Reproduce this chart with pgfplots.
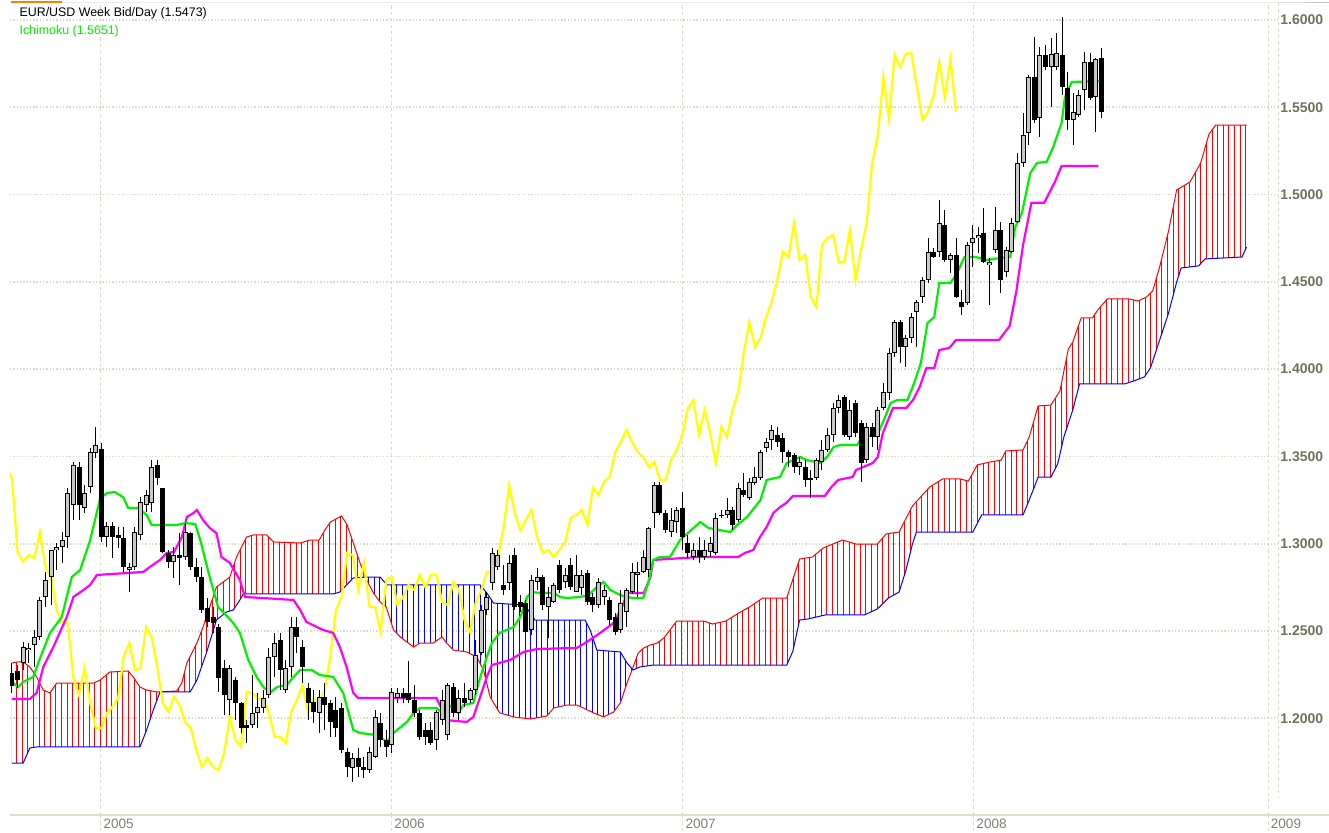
\documentclass[border=0pt]{standalone}
\usepackage{pgfplots}
\pgfplotsset{compat=1.18}
\usepackage{pgfplotstable}
\usepgfplotslibrary{fillbetween}
\usetikzlibrary{patterns.meta}
\usepackage{fontspec}
\setmainfont{Liberation Sans}
\definecolor{gridc}{RGB}{222,218,198}
\definecolor{tickc}{RGB}{112,112,92}
\definecolor{yearc}{RGB}{128,128,118}
\definecolor{framec}{RGB}{226,222,204}
\definecolor{ichi}{RGB}{0,240,0}
\definecolor{kij}{RGB}{255,0,255}
\definecolor{chik}{RGB}{255,255,0}
\definecolor{sred}{RGB}{255,0,0}
\definecolor{sblue}{RGB}{0,0,255}
\definecolor{hollow}{RGB}{200,200,200}

\pgfplotstableread{
w o h l c
0 1.2260 1.2317 1.2145 1.2185
1 1.2271 1.2305 1.2173 1.2219
2 1.2317 1.2437 1.2277 1.2408
3 1.2391 1.2431 1.2317 1.2403
4 1.2420 1.2506 1.2294 1.2466
5 1.2466 1.2695 1.2448 1.2678
6 1.2695 1.2838 1.2637 1.2792
7 1.2809 1.2964 1.2649 1.2964
8 1.2964 1.3004 1.2849 1.2981
9 1.2981 1.3067 1.2890 1.3021
10 1.3038 1.3319 1.2975 1.3290
11 1.3222 1.3468 1.3136 1.3451
12 1.3439 1.3468 1.3136 1.3222
13 1.3205 1.3336 1.3176 1.3290
14 1.3325 1.3548 1.3290 1.3525
15 1.3520 1.3668 1.3491 1.3565
16 1.3542 1.3577 1.3010 1.3038
17 1.3038 1.3124 1.2981 1.3101
18 1.3101 1.3124 1.2918 1.3038
19 1.3050 1.3096 1.2975 1.3033
20 1.3033 1.3096 1.2838 1.2867
21 1.2849 1.2890 1.2723 1.2867
22 1.2867 1.3096 1.2849 1.3067
23 1.3050 1.3267 1.3021 1.3239
24 1.3222 1.3308 1.3182 1.3279
25 1.3233 1.3479 1.3182 1.3439
26 1.3451 1.3479 1.3336 1.3376
27 1.3319 1.3319 1.2947 1.2952
28 1.2947 1.2964 1.2861 1.2895
29 1.2895 1.2981 1.2804 1.2935
30 1.2935 1.3061 1.2764 1.2918
31 1.2924 1.3118 1.2907 1.3067
32 1.3061 1.3067 1.2849 1.2867
33 1.2867 1.2918 1.2781 1.2809
34 1.2809 1.2867 1.2603 1.2620
35 1.2632 1.2689 1.2523 1.2552
36 1.2580 1.2637 1.2489 1.2546
37 1.2523 1.2540 1.2151 1.2231
38 1.2288 1.2334 1.2019 1.2134
39 1.2105 1.2305 1.2019 1.2288
40 1.2219 1.2237 1.1990 1.2088
41 1.2088 1.2094 1.1916 1.1944
42 1.1962 1.1990 1.1858 1.1944
43 1.1962 1.2248 1.1944 1.2031
44 1.2031 1.2145 1.1944 1.2065
45 1.2059 1.2162 1.2031 1.2116
46 1.2134 1.2403 1.2116 1.2351
47 1.2351 1.2489 1.2237 1.2431
48 1.2448 1.2489 1.2162 1.2277
49 1.2162 1.2334 1.2145 1.2288
50 1.2294 1.2580 1.2237 1.2523
51 1.2523 1.2580 1.2374 1.2466
52 1.2408 1.2448 1.2202 1.2294
53 1.2173 1.2202 1.1990 1.2088
54 1.2094 1.2162 1.1973 1.2036
55 1.2031 1.2162 1.1916 1.2122
56 1.2122 1.2202 1.1933 1.2076
57 1.2088 1.2105 1.1893 1.1979
58 1.2048 1.2122 1.1893 1.1944
59 1.2059 1.2088 1.1801 1.1818
60 1.1807 1.1830 1.1664 1.1721
61 1.1715 1.1801 1.1635 1.1773
62 1.1773 1.1830 1.1664 1.1721
63 1.1721 1.1778 1.1658 1.1704
64 1.1704 1.1836 1.1687 1.1807
65 1.1778 1.2048 1.1773 1.2008
66 1.1973 1.2031 1.1836 1.1876
67 1.1876 1.1933 1.1778 1.1836
68 1.1847 1.2173 1.1801 1.2151
69 1.2116 1.2173 1.2088 1.2145
70 1.2145 1.2173 1.2088 1.2116
71 1.2145 1.2328 1.2088 1.2105
72 1.2105 1.2191 1.2008 1.2031
73 1.2031 1.2048 1.1876 1.1893
74 1.1933 1.1973 1.1847 1.1893
75 1.1933 1.1979 1.1847 1.1858
76 1.1876 1.2048 1.1818 1.2036
77 1.1990 1.2162 1.1962 1.2105
78 1.1904 1.2202 1.1876 1.2191
79 1.2179 1.2202 1.2008 1.2031
80 1.2031 1.2162 1.1990 1.2116
81 1.2116 1.2202 1.2065 1.2088
82 1.2105 1.2173 1.2088 1.2162
83 1.2162 1.2448 1.2134 1.2363
84 1.2374 1.2649 1.2363 1.2620
85 1.2620 1.2723 1.2592 1.2695
86 1.2775 1.2975 1.2735 1.2947
87 1.2867 1.2964 1.2849 1.2935
88 1.2764 1.2878 1.2706 1.2735
89 1.2775 1.2935 1.2735 1.2890
90 1.2935 1.2975 1.2620 1.2637
91 1.2666 1.2706 1.2609 1.2637
92 1.2660 1.2678 1.2489 1.2494
93 1.2506 1.2821 1.2477 1.2792
94 1.2781 1.2861 1.2735 1.2809
95 1.2809 1.2821 1.2620 1.2649
96 1.2637 1.2752 1.2460 1.2695
97 1.2666 1.2775 1.2660 1.2764
98 1.2878 1.2907 1.2718 1.2735
99 1.2781 1.2861 1.2746 1.2821
100 1.2878 1.2918 1.2735 1.2752
101 1.2723 1.2935 1.2723 1.2821
102 1.2746 1.2849 1.2706 1.2821
103 1.2832 1.2849 1.2649 1.2666
104 1.2695 1.2718 1.2609 1.2649
105 1.2649 1.2804 1.2632 1.2781
106 1.2695 1.2764 1.2649 1.2735
107 1.2678 1.2695 1.2534 1.2563
108 1.2580 1.2603 1.2477 1.2494
109 1.2506 1.2735 1.2489 1.2660
110 1.2609 1.2746 1.2523 1.2735
111 1.2723 1.2890 1.2712 1.2838
112 1.2821 1.2895 1.2695 1.2838
113 1.2838 1.2964 1.2832 1.2924
114 1.2849 1.3096 1.2809 1.3090
115 1.3176 1.3354 1.3090 1.3336
116 1.3336 1.3354 1.3165 1.3176
117 1.3176 1.3193 1.3061 1.3078
118 1.3067 1.3205 1.3038 1.3136
119 1.3124 1.3210 1.3061 1.3193
120 1.3205 1.3296 1.2964 1.3038
121 1.3004 1.3050 1.2918 1.2947
122 1.2924 1.3004 1.2907 1.2964
123 1.2964 1.3038 1.2890 1.2924
124 1.2924 1.3021 1.2907 1.2964
125 1.2952 1.3038 1.2924 1.3004
126 1.2947 1.3176 1.2935 1.3147
127 1.3159 1.3193 1.3147 1.3165
128 1.3165 1.3262 1.3147 1.3193
129 1.3193 1.3210 1.3078 1.3107
130 1.3136 1.3348 1.3124 1.3319
131 1.3308 1.3405 1.3267 1.3279
132 1.3262 1.3376 1.3250 1.3354
133 1.3348 1.3439 1.3336 1.3382
134 1.3376 1.3537 1.3365 1.3525
135 1.3548 1.3605 1.3525 1.3583
136 1.3594 1.3680 1.3537 1.3651
137 1.3623 1.3668 1.3554 1.3583
138 1.3605 1.3634 1.3462 1.3525
139 1.3525 1.3537 1.3439 1.3497
140 1.3508 1.3520 1.3405 1.3439
141 1.3439 1.3497 1.3394 1.3468
142 1.3439 1.3479 1.3325 1.3365
143 1.3376 1.3422 1.3262 1.3365
144 1.3376 1.3491 1.3365 1.3479
145 1.3468 1.3594 1.3422 1.3537
146 1.3537 1.3663 1.3525 1.3623
147 1.3623 1.3806 1.3583 1.3777
148 1.3777 1.3852 1.3749 1.3823
149 1.3840 1.3852 1.3611 1.3623
150 1.3611 1.3823 1.3594 1.3766
151 1.3806 1.3823 1.3611 1.3634
152 1.3691 1.3709 1.3354 1.3462
153 1.3479 1.3691 1.3462 1.3668
154 1.3668 1.3691 1.3554 1.3611
155 1.3611 1.3783 1.3537 1.3766
156 1.3777 1.3920 1.3766 1.3869
157 1.3863 1.4121 1.3823 1.4092
158 1.4092 1.4281 1.4069 1.4270
159 1.4270 1.4281 1.4035 1.4127
160 1.4127 1.4195 1.4012 1.4178
161 1.4178 1.4321 1.4149 1.4298
162 1.4327 1.4396 1.4127 1.4384
163 1.4413 1.4527 1.4379 1.4510
164 1.4510 1.4751 1.4493 1.4671
165 1.4671 1.4694 1.4636 1.4642
166 1.4671 1.4969 1.4642 1.4837
167 1.4825 1.4911 1.4613 1.4625
168 1.4625 1.4665 1.4550 1.4654
169 1.4654 1.4751 1.4407 1.4413
170 1.4384 1.4453 1.4310 1.4356
171 1.4379 1.4728 1.4367 1.4711
172 1.4722 1.4825 1.4585 1.4751
173 1.4751 1.4814 1.4665 1.4768
174 1.4780 1.4923 1.4608 1.4613
175 1.4596 1.4636 1.4367 1.4613
176 1.4682 1.4928 1.4665 1.4797
177 1.4797 1.4843 1.4436 1.4510
178 1.4556 1.4699 1.4527 1.4682
179 1.4671 1.4866 1.4665 1.4837
180 1.4843 1.5238 1.4837 1.5181
181 1.5181 1.5467 1.5158 1.5341
182 1.5352 1.5684 1.5284 1.5673
183 1.5673 1.5902 1.5410 1.5427
184 1.5438 1.5845 1.5329 1.5799
185 1.5799 1.5856 1.5713 1.5730
186 1.5730 1.5896 1.5501 1.5805
187 1.5730 1.5925 1.5713 1.5810
188 1.5799 1.6017 1.5570 1.5616
189 1.5610 1.5702 1.5370 1.5427
190 1.5427 1.5581 1.5284 1.5473
191 1.5455 1.5599 1.5444 1.5570
192 1.5599 1.5816 1.5484 1.5759
193 1.5759 1.5810 1.5541 1.5553
194 1.5558 1.5782 1.5358 1.5776
195 1.5782 1.5839 1.5438 1.5473
}\candles

\pgfplotstableread{
w a
0 1.2317
1 1.2323
2 1.2323
3.2 1.2294
4.4 1.2237
5.6 1.2162
6.8 1.2145
8 1.2202
14.6 1.2202
15.8 1.2219
17.5 1.2265
20.8 1.2271
21.7 1.2237
22.9 1.2179
24.1 1.2162
25.9 1.2151
29.5 1.2156
30.4 1.2202
31.3 1.2317
33.1 1.2431
34.2 1.2523
35.4 1.2637
36.6 1.2752
39 1.2809
40.2 1.2924
42 1.3038
43.2 1.3050
45.6 1.3050
46.8 1.3010
51.6 1.3004
53.3 1.3021
55 1.3021
56 1.3078
57 1.3124
59 1.3159
60 1.3107
61.1 1.3004
62.3 1.2890
63.5 1.2792
64.7 1.2718
65.9 1.2666
67 1.2637
68.3 1.2506
69.5 1.2466
70.7 1.2437
71.9 1.2408
73 1.2431
75.4 1.2431
77 1.2466
77.8 1.2431
79 1.2391
81.4 1.2380
83.2 1.2351
84.4 1.2277
85.6 1.2122
87.3 1.2031
89.8 1.2008
92.8 1.1996
95.7 1.2013
97 1.2059
99.3 1.2076
101.1 1.2076
102.3 1.2059
104.1 1.2031
105.9 1.2008
107.7 1.2036
108.9 1.2088
110.1 1.2202
111.2 1.2294
112.1 1.2374
113.1 1.2403
114.3 1.2420
115.5 1.2431
116.7 1.2460
117.8 1.2506
119 1.2557
123.9 1.2557
125.4 1.2540
127.8 1.2557
130.1 1.2603
132 1.2637
134.4 1.2689
138.7 1.2689
139.4 1.2758
141 1.2912
143.3 1.2924
145.2 1.2975
148.7 1.3021
151.1 1.2998
154.9 1.2998
156.5 1.3056
158.8 1.3067
161.2 1.3216
164.3 1.3325
166.6 1.3371
169.7 1.3371
171.2 1.3359
172.8 1.3451
175.1 1.3468
177.1 1.3479
177.9 1.3531
181 1.3537
182.1 1.3611
183.7 1.3789
186 1.3794
187.6 1.3875
189.1 1.4115
189.9 1.4155
191.4 1.4293
193.4 1.4293
194.5 1.4344
196.1 1.4402
200 1.4402
201.6 1.4390
203.1 1.4413
204.2 1.4447
205.4 1.4579
207 1.4785
208.5 1.5026
210.9 1.5072
212.8 1.5181
214.3 1.5347
215.5 1.5398
221 1.5398
}\spanA

\pgfplotstableread{
w b
0 1.1744
2 1.1744
3.2 1.1830
4.4 1.1836
22.9 1.1836
24.1 1.1933
25.3 1.2048
26.5 1.2151
31.9 1.2151
33.1 1.2219
34.8 1.2374
36.6 1.2563
38.4 1.2609
39.6 1.2620
40.8 1.2678
41.4 1.2712
57.5 1.2712
58.7 1.2723
59.9 1.2764
61.1 1.2804
63.5 1.2809
65.9 1.2809
67.1 1.2764
83.8 1.2764
85 1.2718
86.2 1.2660
91.6 1.2649
92.4 1.2620
93.6 1.2563
102.6 1.2563
103.5 1.2506
104.7 1.2391
108.9 1.2380
110.1 1.2317
111.2 1.2277
112.4 1.2294
114.8 1.2305
138.7 1.2305
139.8 1.2385
141 1.2563
142.5 1.2569
145.6 1.2592
152.6 1.2592
154.9 1.2626
156.9 1.2689
158.8 1.2723
160 1.2844
161.2 1.2998
161.9 1.3067
172 1.3067
173.6 1.3165
181 1.3165
182.1 1.3250
183.3 1.3348
183.7 1.3382
186 1.3382
187.2 1.3457
188.3 1.3611
189.9 1.3766
191.1 1.3915
199.2 1.3915
200.8 1.3932
202.7 1.3955
203.8 1.4006
205.4 1.4161
207 1.4316
208.5 1.4499
209.3 1.4579
212.4 1.4591
213.6 1.4631
220.2 1.4642
221 1.4699
}\spanB

\begin{document}
\begin{tikzpicture}
\begin{axis}[
  scale only axis, width=634bp, height=406bp,
  xmin=-0.358, xmax=226.64, ymin=1.14462, ymax=1.60968,
  axis line style={draw=none}, tick style={draw=none},
  major tick length=0pt,
  xtick={15.88,67.97,120.07,172.16,224.85},
  xticklabels={2005,2006,2007,2008,2009},
  xticklabel style={anchor=north west, inner sep=0pt, xshift=1.2bp, yshift=-1.6bp,
    font=\fontsize{6.8bp}{7bp}\selectfont, text=yearc},
  ytick={1.20,1.25,1.30,1.35,1.40,1.45,1.50,1.55,1.60},
  yticklabels={1.2000,1.2500,1.3000,1.3500,1.4000,1.4500,1.5000,1.5500,1.6000},
  yticklabel pos=right,
  yticklabel style={anchor=west, inner sep=0pt, xshift=1bp,
    font=\bfseries\fontsize{7bp}{8bp}\selectfont, text=tickc},
  xmajorgrids, ymajorgrids,
  x grid style={dash pattern=on 1.6bp off 1.6bp, line width=0.5bp, color=gridc},
  y grid style={dash pattern=on 0.7bp off 0.95bp, line width=0.85bp, color=gridc},
]
% cloud
\addplot[name path=A, sred, line width=0.5bp] table[x=w, y=a] {\spanA};
\addplot[name path=B, sblue, line width=0.5bp] table[x=w, y=b] {\spanB};
\addplot[draw=none, pattern={Lines[angle=90,distance=2.793bp,line width=0.5bp]}, pattern color=sred]
  fill between[of=A and B, soft clip={domain=-1:63.2}];
\addplot[draw=none, pattern={Lines[angle=90,distance=2.793bp,line width=0.5bp]}, pattern color=sblue]
  fill between[of=A and B, soft clip={domain=63.2:111.0}];
\addplot[draw=none, pattern={Lines[angle=90,distance=2.793bp,line width=0.5bp]}, pattern color=sred]
  fill between[of=A and B, soft clip={domain=111.0:222}];
% chikou span
\addplot[chik, line width=1.1bp] table[x expr=\thisrow{w}-26, y=c] {\candles};
% kijun
\addplot[kij, line width=1.1bp] coordinates {
(0,1.2111)(3.2,1.2111)(4.4,1.2145)(5.6,1.2294)(7.4,1.2408)(9.8,1.2580)(11,1.2695)
(12.8,1.2735)(14,1.2764)(15.2,1.2821)(20.5,1.2832)(23.5,1.2838)(24.7,1.2867)(26.5,1.2907)
(27.7,1.2947)(29,1.2952)(30.4,1.3038)(31.3,1.3153)(32.5,1.3176)(33.1,1.3193)(34.2,1.3136)
(35.4,1.3090)(36.6,1.3061)(37.5,1.2924)(39,1.2890)(40.8,1.2792)(41.7,1.2695)(50.4,1.2678)
(51.6,1.2620)(52.7,1.2552)(55.7,1.2506)(57.5,1.2489)(58.7,1.2408)(59.9,1.2294)(61.1,1.2145)
(62,1.2116)(76,1.2116)(77,1.2048)(77.8,1.1990)(81.4,1.1979)(82.6,1.2008)(83.8,1.2122)
(85,1.2237)(85.9,1.2305)(89.2,1.2334)(91.6,1.2380)(94,1.2397)(101.1,1.2403)(102.9,1.2437)
(105.3,1.2489)(107.7,1.2546)(109.2,1.2637)(110.1,1.2718)(113.1,1.2718)(114.3,1.2809)
(114.8,1.2907)(123.2,1.2924)(130,1.2924)(131.2,1.2947)(132.7,1.2964)(133.9,1.3038)
(135.1,1.3096)(136.3,1.3176)(137.5,1.3210)(138.6,1.3233)(139.8,1.3273)(145.5,1.3273)
(146.7,1.3325)(147.9,1.3365)(150.5,1.3382)(151.1,1.3422)(154.1,1.3462)(155,1.3497)
(155.9,1.3634)(157.7,1.3777)(160.1,1.3777)(161.3,1.3823)(162.5,1.3898)(163.7,1.4006)
(165.1,1.4006)(166,1.4109)(167.8,1.4121)(169,1.4167)(176.7,1.4167)(178.6,1.4247)
(179.8,1.4447)(181,1.4711)(182.5,1.4953)(184.8,1.4953)(186.7,1.5072)(187.9,1.5163)(194.5,1.5163)};
% tenkan
\addplot[ichi, line width=1.1bp] coordinates {
(0,1.2208)(1.1,1.2179)(2,1.2208)(3.8,1.2237)(4.7,1.2317)(6.8,1.2489)(8.9,1.2580)
(9.8,1.2695)(10.7,1.2809)(12.2,1.2849)(14,1.3021)(15.8,1.3262)(17,1.3290)(18.4,1.3296)
(19.9,1.3267)(20.8,1.3205)(22.6,1.3205)(24.1,1.3165)(25,1.3107)(29.5,1.3107)(31,1.3118)
(32.8,1.3113)(33.7,1.3021)(35.4,1.2809)(36.9,1.2637)(37.8,1.2609)(39.6,1.2546)(40.8,1.2489)
(42.3,1.2334)(43.8,1.2237)(45,1.2179)(46.2,1.2145)(47.4,1.2179)(49.2,1.2191)(50.4,1.2237)
(51.6,1.2277)(53.6,1.2277)(55.1,1.2248)(57.5,1.2237)(59.3,1.2145)(61.1,1.1933)(62.3,1.1916)
(65.3,1.1904)(67.1,1.1864)(68.3,1.1916)(70.7,1.1979)(71.9,1.2031)(73,1.2059)(76,1.2059)
(77,1.2031)(77.8,1.2088)(79.9,1.2031)(80.8,1.2076)(82.6,1.2088)(83.5,1.2202)(85,1.2351)
(85.9,1.2431)(87.3,1.2489)(89.8,1.2523)(91,1.2580)(92.2,1.2695)(93.1,1.2723)(94.6,1.2718)
(97,1.2718)(98.1,1.2695)(99.3,1.2689)(101.7,1.2695)(103.2,1.2706)(104.7,1.2752)(105.9,1.2781)
(107.1,1.2735)(108.9,1.2706)(110,1.2695)(111.2,1.2689)(113,1.2689)(113.9,1.2775)(114.8,1.2907)
(116,1.2924)(117.8,1.2924)(119.6,1.3021)(123.2,1.3124)(124.7,1.3090)(128.6,1.3067)
(129.8,1.3107)(131.6,1.3153)(134,1.3250)(135.1,1.3365)(137.5,1.3382)(138.7,1.3462)
(141.1,1.3497)(142.3,1.3479)(144.7,1.3462)(145.9,1.3497)(147.1,1.3554)(148.3,1.3565)
(151.3,1.3565)(152.2,1.3611)(154.9,1.3623)(156.1,1.3709)(157.3,1.3806)(158.5,1.3823)
(160.3,1.3823)(161.5,1.3920)(162.7,1.4035)(163.9,1.4264)(165.1,1.4298)(166,1.4493)
(168,1.4493)(169.2,1.4550)(170.5,1.4642)(172.5,1.4642)(174.5,1.4625)(176.9,1.4636)
(178.7,1.4642)(179.6,1.4814)(180.8,1.4894)(182.3,1.5123)(183.5,1.5181)(185.2,1.5186)
(186.4,1.5272)(187.9,1.5410)(188.5,1.5558)(189.7,1.5644)(194.7,1.5650)};
% candles: wicks
\addplot[draw=none, mark=none, forget plot, error bars/.cd, y dir=both, y explicit, error mark=none,
  error bar style={draw=black, line width=0.5bp}]
  table[x=w, y expr={(\thisrow{h}+\thisrow{l})/2}, y error expr={(\thisrow{h}-\thisrow{l})/2}] {\candles};
% bodies
\addplot[draw=none, mark=none, forget plot, error bars/.cd, y dir=both, y explicit, error mark=none,
  error bar style={draw=black, line width=2.5bp}]
  table[x=w, y expr={(\thisrow{o}+\thisrow{c})/2}, y error expr={max(abs(\thisrow{o}-\thisrow{c})/2,0.0003)}] {\candles};
% hollow interiors of up candles
\addplot[draw=none, mark=none, forget plot, error bars/.cd, y dir=both, y explicit, error mark=none,
  error bar style={draw=hollow, line width=1.5bp}]
  table[x=w, y expr={(\thisrow{o}+\thisrow{c})/2}, y error expr={max((\thisrow{c}-\thisrow{o})/2-0.00057,0)}] {\candles};
\coordinate (BL) at (rel axis cs:0,0);
\coordinate (TR) at (rel axis cs:1,1);
\coordinate (TL) at (rel axis cs:0,1);
\coordinate (BR) at (rel axis cs:1,0);
\coordinate (X1) at (axis cs:15.88,1.14462);
\coordinate (X2) at (axis cs:67.97,1.14462);
\coordinate (X3) at (axis cs:120.07,1.14462);
\coordinate (X4) at (axis cs:172.16,1.14462);
\coordinate (X5) at (axis cs:224.85,1.14462);
\end{axis}
% frame lines
\draw[framec, line width=0.8bp] (BL) -- (BR) -- ++(25.5bp,0);
\draw[black!22, line width=0.5bp] (TL) -- (TR) -- ++(25.5bp,0);
\draw[orange, line width=1bp] ([xshift=0.5bp,yshift=0.6bp]TL) -- ++(25.5bp,0);
\draw[gridc, dash pattern=on 1.6bp off 1.6bp, line width=0.5bp] (TR) -- ([yshift=9bp]BR);
\foreach \p in {X1,X2,X3,X4,X5}
  \draw[gridc, dash pattern=on 1.6bp off 1.6bp, line width=0.5bp] (\p) -- ++(0,-9bp);
% title texts
\node[anchor=west, inner sep=0pt, font=\fontsize{6.2bp}{7bp}\selectfont, text=black]
  at ([xshift=4.6bp,yshift=-5bp]TL) {EUR/USD Week Bid/Day (1.5473)};
\node[anchor=west, inner sep=0pt, font=\fontsize{6.2bp}{7bp}\selectfont, text=ichi]
  at ([xshift=4.6bp,yshift=-14bp]TL) {Ichimoku (1.5651)};
\pgfresetboundingbox
\path[use as bounding box] ([xshift=-5bp,yshift=-9bp]BL) rectangle ([xshift=25.5bp,yshift=1.5bp]TR);
\end{tikzpicture}
\end{document}
